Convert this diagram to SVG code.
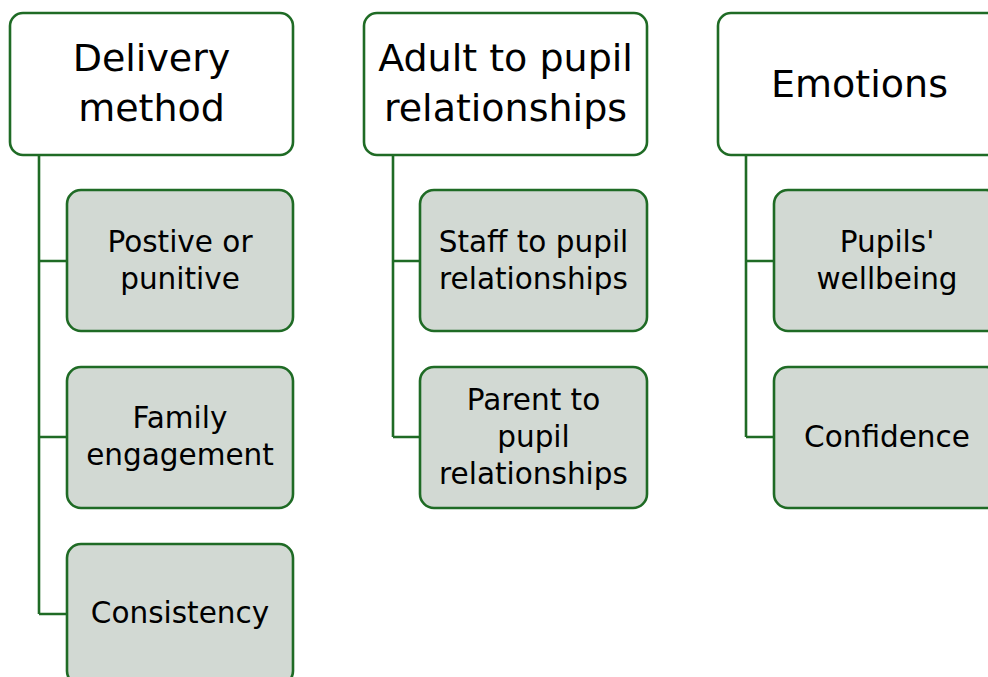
<svg xmlns="http://www.w3.org/2000/svg" width="988" height="677" viewBox="0 0 988 677">
  <style>
    .parent { fill: #ffffff; stroke: #1f6b25; stroke-width: 2.6; }
    .child { fill: #d2d9d3; stroke: #1f6b25; stroke-width: 2.6; }
    .link { fill: none; stroke: #1f6b25; stroke-width: 2.6; }
    text { font-family: "DejaVu Sans", "Liberation Sans", sans-serif; fill: #000000; text-anchor: middle; }
    .title { font-size: 38px; }
    .label { font-size: 29.5px; }
  </style>
  <rect width="988" height="677" fill="#ffffff"/>

  <!-- connectors -->
  <g id="connectors">
    <path class="link" d="M39 155 V614 M39 261 H67 M39 437 H67 M39 614 H67"/>
    <path class="link" d="M393 155 V437 M393 261 H420 M393 437 H420"/>
    <path class="link" d="M746 155 V437 M746 261 H774 M746 437 H774"/>
  </g>

  <!-- column 1 -->
  <g id="delivery-method">
    <rect class="parent" x="10" y="13" width="283" height="142" rx="13"/>
    <text class="title" x="151.5" y="71">Delivery</text>
    <text class="title" x="151.5" y="121">method</text>
  </g>
  <g id="positive-or-punitive">
    <rect class="child" x="67" y="190" width="226" height="141" rx="14"/>
    <text class="label" x="180" y="252">Postive or</text>
    <text class="label" x="180" y="289">punitive</text>
  </g>
  <g id="family-engagement">
    <rect class="child" x="67" y="367" width="226" height="141" rx="14"/>
    <text class="label" x="180" y="428">Family</text>
    <text class="label" x="180" y="465">engagement</text>
  </g>
  <g id="consistency">
    <rect class="child" x="67" y="544" width="226" height="141" rx="14"/>
    <text class="label" x="180" y="623">Consistency</text>
  </g>

  <!-- column 2 -->
  <g id="adult-to-pupil">
    <rect class="parent" x="364" y="13" width="283" height="142" rx="13"/>
    <text class="title" x="505.5" y="71">Adult to pupil</text>
    <text class="title" x="505.5" y="121">relationships</text>
  </g>
  <g id="staff-to-pupil">
    <rect class="child" x="420" y="190" width="227" height="141" rx="14"/>
    <text class="label" x="533.5" y="252">Staff to pupil</text>
    <text class="label" x="533.5" y="289">relationships</text>
  </g>
  <g id="parent-to-pupil">
    <rect class="child" x="420" y="367" width="227" height="141" rx="14"/>
    <text class="label" x="533.5" y="410">Parent to</text>
    <text class="label" x="533.5" y="447">pupil</text>
    <text class="label" x="533.5" y="484">relationships</text>
  </g>

  <!-- column 3 -->
  <g id="emotions">
    <rect class="parent" x="718" y="13" width="283" height="142" rx="13"/>
    <text class="title" x="859.5" y="97">Emotions</text>
  </g>
  <g id="pupils-wellbeing">
    <rect class="child" x="774" y="190" width="226" height="141" rx="14"/>
    <text class="label" x="887" y="252">Pupils'</text>
    <text class="label" x="887" y="289">wellbeing</text>
  </g>
  <g id="confidence">
    <rect class="child" x="774" y="367" width="226" height="141" rx="14"/>
    <text class="label" x="887" y="447">Confidence</text>
  </g>
</svg>
